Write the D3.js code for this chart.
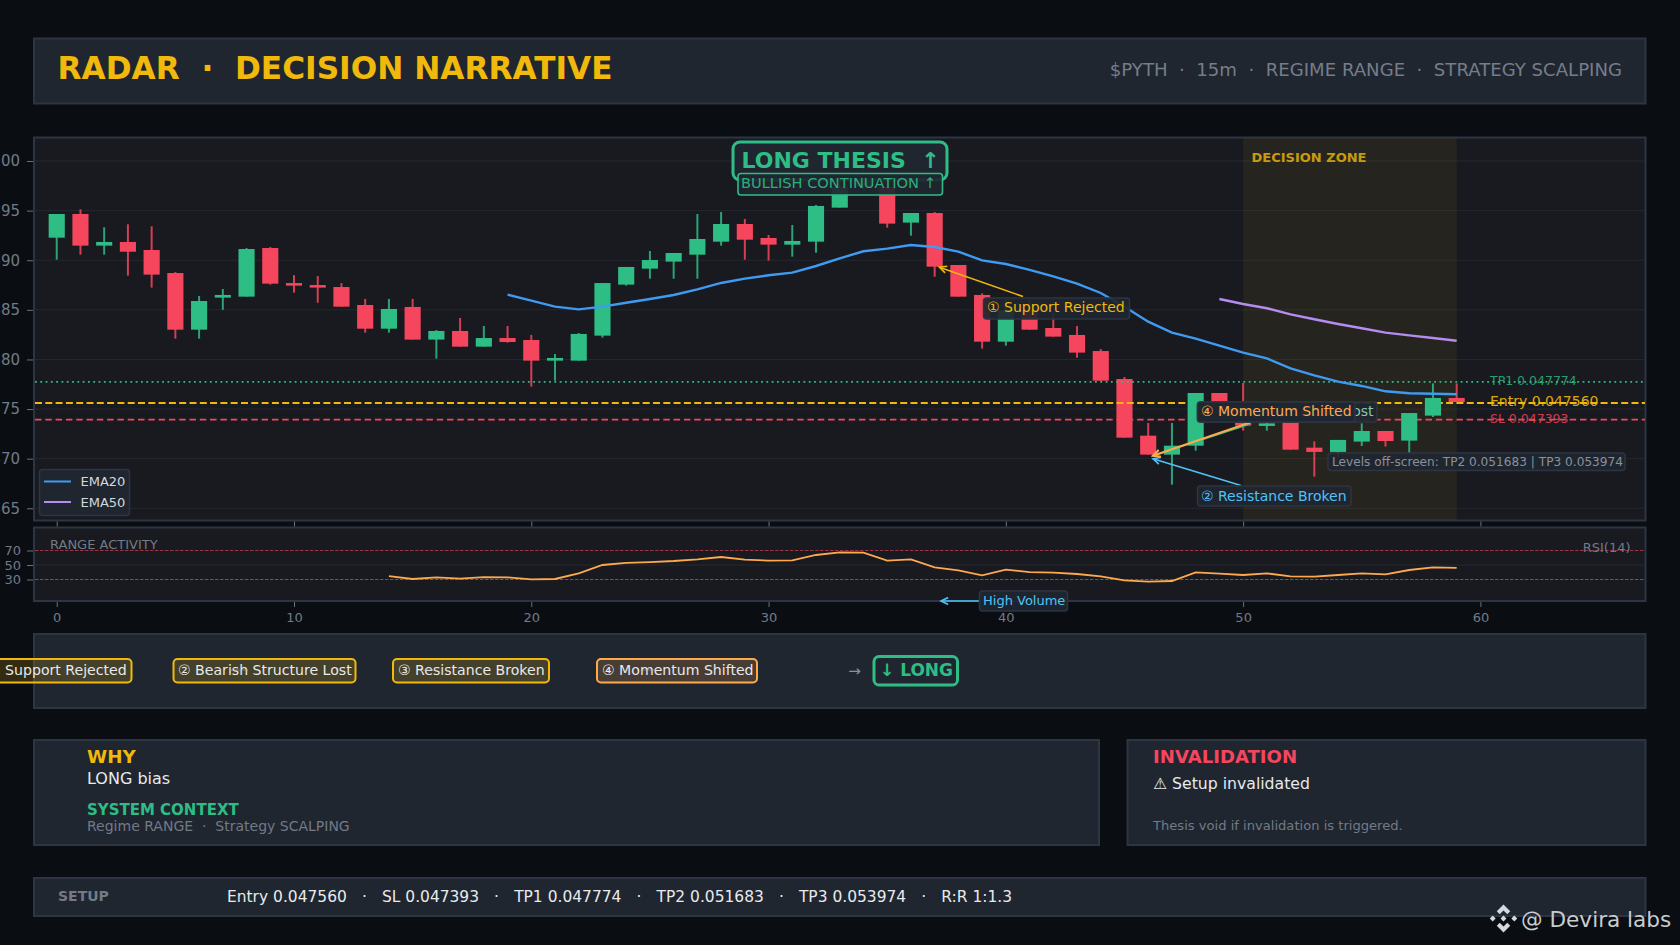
<!DOCTYPE html>
<html><head><meta charset="utf-8">
<script src="https://cdn.jsdelivr.net/npm/d3@7/dist/d3.min.js"></script>
<style>
html,body{margin:0;padding:0;background:#0a0e12;overflow:hidden}
svg{display:block}
text{font-family:"DejaVu Sans",sans-serif;white-space:pre}
</style></head><body><svg id="c" width="1680" height="945"></svg>
<script>
const candleOpen=[.049227,.049466,.049147,.049184,.049103,.048871,.048300,.048623,.048633,.049123,.048770,.048750,.048730,.048549,.048310,.048529,.048200,.048287,.048129,.048216,.048196,.047988,.047988,.048240,.048754,.048915,.048986,.049056,.049187,.049365,.049224,.049157,.049187,.049530,.049740,.049740,.049379,.049476,.048952,.048650,.048179,.048500,.048317,.048247,.048085,.047803,.047232,.047041,.047131,.047662,.047460,.047330,.047370,.047111,.047068,.047172,.047279,.047182,.047434,.047612];
const candleClose=[.049466,.049147,.049184,.049086,.048855,.048300,.048589,.048650,.049113,.048764,.048744,.048724,.048532,.048310,.048509,.048200,.048287,.048129,.048216,.048176,.047988,.048015,.048257,.048770,.048932,.049002,.049073,.049214,.049365,.049207,.049157,.049194,.049547,.049740,.049860,.049369,.049476,.048935,.048633,.048179,.048498,.048300,.048230,.048069,.047786,.047212,.047041,.047131,.047662,.047470,.047333,.047356,.047091,.047068,.047189,.047279,.047178,.047460,.047612,.047571];
const candleHigh=[.049466,.049513,.049332,.049362,.049342,.048881,.048640,.048710,.049123,.049133,.048850,.048840,.048770,.048610,.048610,.048610,.048297,.048418,.048337,.048337,.048247,.048055,.048267,.048770,.048932,.049093,.049073,.049466,.049486,.049416,.049254,.049355,.049557,.049810,.049930,.049740,.049476,.049486,.048952,.048666,.048600,.048600,.048465,.048337,.048105,.047823,.047360,.047360,.047662,.047662,.047763,.047400,.047370,.047175,.047189,.047356,.047279,.047460,.047759,.047759];
const candleLow=[.049006,.049056,.049056,.048844,.048724,.048210,.048210,.048500,.048633,.048754,.048673,.048572,.048532,.048270,.048270,.048200,.048008,.048129,.048129,.048169,.047726,.047786,.047988,.048220,.048744,.048814,.048814,.048814,.049147,.049006,.048996,.049036,.049076,.049530,.049700,.049328,.049248,.048834,.048633,.048109,.048139,.048300,.048230,.048018,.047786,.047212,.047041,.046738,.047081,.047400,.047283,.047283,.047091,.046819,.047014,.047128,.047122,.047054,.047420,.047571];
const ema20Start=19;
const ema20=[.048653,.048593,.048532,.048505,.048532,.048572,.048609,.048650,.048707,.048771,.048814,.048848,.048875,.048942,.049019,.049090,.049117,.049154,.049133,.049086,.048999,.048962,.048902,.048838,.048764,.048670,.048532,.048381,.048270,.048210,.048139,.048069,.048011,.047911,.047840,.047776,.047733,.047679,.047659,.047655,.047649];
const ema50Start=49;
const ema50=[.048609,.048559,.048516,.048455,.048405,.048357,.048314,.048270,.048243,.048216,.048189];
const rsiStart=14;
const rsi=[34.8,30.7,33.0,31.1,33.4,33.0,30.2,30.7,38.5,50,52.8,54.1,55.5,57.8,61.0,57.4,56.0,56.4,63.8,67.5,67,56,57.8,46.8,42.6,35.7,43.6,40.3,39.4,37.6,34.4,28.9,27.0,27.9,39.9,38.0,36.2,38.5,34.4,33.9,36.2,38.5,37.1,43.1,46.8,45.9];
const priceTicks=[.0500,.0495,.0490,.0485,.0480,.0475,.0470,.0465];
const rsiTicks=[70,50,30];
const xTicks=[0,10,20,30,40,50,60];
const entry=.047560, stopLoss=.047393, tp1=.047774;
const pipelineLabels=["① Support Rejected","② Bearish Structure Lost","③ Resistance Broken","④ Momentum Shifted"];
const legendLabels=["EMA20","EMA50"];
const setupLine="Entry 0.047560   ·   SL 0.047393   ·   TP1 0.047774   ·   TP2 0.051683   ·   TP3 0.053974   ·   R:R 1:1.3";

const C={bg:"#0a0e12",panel:"#1f2630",border:"#2d3442",plot:"#181a20",grid:"#25282f",grey:"#737a86",gold:"#f0b90b",green:"#2ebd85",red:"#f6465d",orange:"#ffa94d",blue:"#4fc3f7",ema20:"#3f9bf2",ema50:"#b48cf2",white:"#e8eaed"};
const svg=d3.select("#c");
const x=d3.scaleLinear().domain([-1,67]).range([33,1646.5]);
const y=d3.scaleLinear().domain([.0500,.0465]).range([161,508.3]);
const yR=d3.scaleLinear().domain([50,70]).range([565,550.5]);
function panel(a,b,c,d,fill){return svg.append("rect").attr("x",a+1).attr("y",b+1).attr("width",c-a-2).attr("height",d-b-2).attr("fill",fill||C.panel).attr("stroke",C.border).attr("stroke-width",2);}
function txt(g,a,b,s,o){o=o||{};return g.append("text").attr("x",a).attr("y",b).attr("dy",".36em").attr("text-anchor",o.anchor||"start").attr("font-size",o.size||14).attr("font-weight",o.bold?"bold":"normal").attr("fill",o.color||C.white).attr("opacity",o.op==null?1:o.op).text(s);}
svg.append("rect").attr("width",1680).attr("height",945).attr("fill",C.bg);
// header
panel(33,37.5,1646.5,104.5);
txt(svg,57.5,68,"RADAR  ·  DECISION NARRATIVE",{size:31.2,bold:true,color:C.gold});
txt(svg,1622,69.5,"$PYTH  ·  15m  ·  REGIME RANGE  ·  STRATEGY SCALPING",{size:18.1,anchor:"end",color:"#767d89"});
// main plot
panel(33,136.5,1646.5,521.5,C.plot);
const xAx=svg.append("g").attr("transform","translate(0,521.5)").call(d3.axisBottom(x).tickValues(xTicks).tickFormat("").tickSize(5));
const yAx=svg.append("g").attr("transform","translate(33,0)").call(d3.axisLeft(y).tickValues(priceTicks).tickFormat(d3.format(".4f")).tickSize(6).tickPadding(7));
[xAx,yAx].forEach(a=>{a.select(".domain").remove();a.selectAll("line").attr("stroke","#6b7280");a.selectAll("text").attr("fill",C.grey).attr("font-size",15);});
const plot=svg.append("g");
plot.selectAll(".gl").data(priceTicks).join("line").attr("x1",35).attr("x2",1645).attr("y1",d=>y(d)).attr("y2",d=>y(d)).attr("stroke",C.grid).attr("stroke-width",1);
plot.append("rect").attr("x",x(50)).attr("width",x(59)-x(50)).attr("y",138).attr("height",382).attr("fill",C.gold).attr("opacity",.065);
txt(plot,1251.5,157.5,"DECISION ZONE",{size:13,bold:true,color:C.gold,op:.8});
const idx=d3.range(candleOpen.length);
const hw=x(.34)-x(0);
function candles(ids){
  plot.selectAll(null).data(ids).join("line").attr("x1",i=>x(i)).attr("x2",i=>x(i)).attr("y1",i=>y(candleHigh[i])).attr("y2",i=>y(candleLow[i])).attr("stroke",i=>candleClose[i]>=candleOpen[i]?C.green:C.red).attr("stroke-width",2).attr("opacity",.85);
  plot.selectAll(null).data(ids).join("rect").attr("x",i=>x(i)-hw).attr("width",hw*2).attr("y",i=>y(Math.max(candleOpen[i],candleClose[i]))).attr("height",i=>Math.abs(y(candleOpen[i])-y(candleClose[i]))).attr("fill",i=>candleClose[i]>=candleOpen[i]?C.green:C.red);
}
candles(idx.filter(i=>candleClose[i]<candleOpen[i]));
txt(plot,1490,380.5,"TP1 0.047774",{size:12.5,color:C.green,op:.8});
txt(plot,1490,401,"Entry 0.047560",{size:14,color:C.gold,op:.9});
txt(plot,1490,418,"SL 0.047393",{size:12.5,color:C.red,op:.8});
function level(v,col,w,dash){plot.append("line").attr("x1",35).attr("x2",1645).attr("y1",y(v)).attr("y2",y(v)).attr("stroke",col).attr("stroke-width",w).attr("stroke-dasharray",dash);}
level(tp1,C.green,1.8,"1.8 3.5");
level(entry,C.gold,2,"7 3.3");
level(stopLoss,C.red,1.8,"6.5 3.8");
candles(idx.filter(i=>candleClose[i]>=candleOpen[i]));
const ln=(start,sc)=>d3.line().x((d,i)=>x(start+i)).y(d=>sc(d));
plot.append("path").attr("d",ln(ema20Start,y)(ema20)).attr("fill","none").attr("stroke",C.ema20).attr("stroke-width",2.4);
plot.append("path").attr("d",ln(ema50Start,y)(ema50)).attr("fill","none").attr("stroke",C.ema50).attr("stroke-width",2.4);
// legend
svg.append("rect").attr("x",39.5).attr("y",469.5).attr("width",90).attr("height",46).attr("rx",3).attr("fill",C.panel).attr("stroke",C.border).attr("stroke-width",1.5);
[C.ema20,C.ema50].forEach((col,i)=>{const yy=481.5+i*20.5;svg.append("line").attr("x1",44).attr("x2",71).attr("y1",yy).attr("y2",yy).attr("stroke",col).attr("stroke-width",2);txt(svg,80.5,yy,legendLabels[i],{size:13,color:"#d5d8dc"});});
// thesis tags
function box(g,a,b,c,d,o){return g.append("rect").attr("x",a).attr("y",b).attr("width",c-a).attr("height",d-b).attr("rx",o.r==null?3:o.r).attr("fill",o.fill||"#1f2630").attr("fill-opacity",o.fo==null?.92:o.fo).attr("stroke",o.stroke||C.border).attr("stroke-width",o.w||1.5);}
box(svg,733,142,947,180,{r:7,stroke:C.green,w:3,fo:.96});
txt(svg,741.5,160,"LONG THESIS  ↑",{size:22,bold:true,color:C.green});
box(svg,738,173.5,942.5,195,{r:3,stroke:C.green,w:1.6,fo:.92});
txt(svg,741,183,"BULLISH CONTINUATION ↑",{size:14.6,color:C.green,op:.9});
// annotations
function arrow(g,x1,y1,x2,y2,col,w){
  g.append("line").attr("x1",x1).attr("y1",y1).attr("x2",x2).attr("y2",y2).attr("stroke",col).attr("stroke-width",w||1.6);
  const a=Math.atan2(y1-y2,x1-x2),L=8,s=.45;
  g.append("path").attr("d",d3.line()([[x2+L*Math.cos(a+s),y2+L*Math.sin(a+s)],[x2,y2],[x2+L*Math.cos(a-s),y2+L*Math.sin(a-s)]])).attr("fill","none").attr("stroke",col).attr("stroke-width",w||1.6);
}
const ann=svg.append("g");
arrow(ann,1023,296.5,x(37.2),y(.04893),C.gold,1.6);
arrow(ann,1241,485.5,x(46.2),y(.04700),C.blue,1.6);
arrow(ann,1250,424,x(46.2),y(.04703),C.green,1.6);
arrow(ann,1250,422.5,x(46.2),y(.04703),C.orange,2);
box(ann,983.5,298,1129.5,319,{});
txt(ann,987,307,pipelineLabels[0],{size:14,color:C.gold});
box(ann,1197.5,486,1351,506,{});
txt(ann,1201,495.5,"② Resistance Broken",{size:14,color:C.blue});
box(ann,1197.5,402,1377,422,{});
txt(ann,1201,411,"③ Bearish Structure Lost",{size:14,color:"#86c9aa"});
box(ann,1197.5,402,1355,422,{fo:.96});
txt(ann,1201,411,"④ Momentum Shifted",{size:14,color:C.orange});
box(ann,1328,453,1625,470.5,{});
txt(ann,1332,461.5,"Levels off-screen: TP2 0.051683 | TP3 0.053974",{size:12.15,color:"#8b919c"});
// rsi panel
panel(33,526.5,1646.5,602,C.plot);
const xAx2=svg.append("g").attr("transform","translate(0,602)").call(d3.axisBottom(x).tickValues(xTicks).tickSize(5).tickPadding(6));
const yAx2=svg.append("g").attr("transform","translate(33,0)").call(d3.axisLeft(yR).tickValues(rsiTicks).tickSize(6).tickPadding(6));
[xAx2,yAx2].forEach(a=>{a.select(".domain").remove();a.selectAll("line").attr("stroke","#6b7280");a.selectAll("text").attr("fill",C.grey).attr("font-size",13);});
svg.append("line").attr("x1",35).attr("x2",1645).attr("y1",yR(50)).attr("y2",yR(50)).attr("stroke",C.grid);
svg.append("line").attr("x1",35).attr("x2",1645).attr("y1",yR(70)).attr("y2",yR(70)).attr("stroke",C.red).attr("stroke-width",1).attr("stroke-dasharray","3.5 1.5").attr("opacity",.6);
svg.append("line").attr("x1",35).attr("x2",1645).attr("y1",yR(30)).attr("y2",yR(30)).attr("stroke",C.green).attr("stroke-width",1).attr("stroke-dasharray","3.5 1.5").attr("opacity",.6);
txt(svg,50,544,"RANGE ACTIVITY",{size:13,color:C.grey});
txt(svg,1630.5,547.5,"RSI(14)",{size:13,anchor:"end",color:C.grey});
svg.append("path").attr("d",ln(rsiStart,yR)(rsi)).attr("fill","none").attr("stroke",C.orange).attr("stroke-width",1.8);
arrow(svg,979,601,941,601,C.blue,1.6);
box(svg,979.5,591,1067.5,611,{});
txt(svg,983,600.5,"High Volume",{size:13,color:C.blue});
// pipeline
panel(33,633,1646.5,709);
const pipe=[[-40,131.5,C.gold,"#f0b90b",-12],[173.5,355.5,C.gold,"#f0b90b",178],[393,549,C.gold,"#f0b90b",398],[597,757,C.orange,"#ffa94d",602]];
pipe.forEach((p,i)=>{
  box(svg,p[0],659,p[1],682.5,{r:4,fill:p[3],fo:.18,stroke:p[2],w:2});
  txt(svg,p[4],670,pipelineLabels[i],{size:14.1,color:C.white});
});
[[230,248],[423,434],[643,656]].forEach(s=>svg.append("line").attr("x1",s[0]).attr("x2",s[1]).attr("y1",670).attr("y2",670).attr("stroke","#aab0b8").attr("stroke-width",1).attr("opacity",.55));
txt(svg,854.5,670.5,"→",{size:15,anchor:"middle",color:"#8b919c"});
box(svg,874,656.5,957.5,685,{r:5,fill:C.panel,fo:1,stroke:C.green,w:3});
txt(svg,880,669.5,"↓ LONG",{size:17,bold:true,color:C.green});
// why
panel(33,739,1100,846);
txt(svg,87,756,"WHY",{size:18.3,bold:true,color:C.gold});
txt(svg,87,778,"LONG bias",{size:16,color:C.white});
txt(svg,87,810,"SYSTEM CONTEXT",{size:15,bold:true,color:C.green});
txt(svg,87,826,"Regime RANGE  ·  Strategy SCALPING",{size:14,color:C.grey});
panel(1126.5,739,1646.5,846);
txt(svg,1153,756,"INVALIDATION",{size:18.1,bold:true,color:C.red});
txt(svg,1153,783,"⚠ Setup invalidated",{size:15.7,color:C.white});
txt(svg,1153,825.5,"Thesis void if invalidation is triggered.",{size:13.1,color:C.grey});
// setup
panel(33,877,1646.5,917);
txt(svg,58,896,"SETUP",{size:14,bold:true,color:C.grey});
txt(svg,227,896,setupLine,{size:15.45,color:C.white}).attr("word-spacing",.13);
// watermark
const wm=svg.append("g").attr("transform","translate(1503.5,918.5) scale(14)").attr("fill","#d6d8db");
const poly=p=>wm.append("polygon").attr("points",p.map(q=>q.join(",")).join(" "));
const chevron=[[0,-1],[.48,-.52],[.27,-.31],[0,-.58],[-.27,-.31],[-.48,-.52]];
poly(chevron);poly(chevron.map(q=>[q[0],-q[1]]));
[[0,0],[-.77,0],[.77,0]].forEach(c=>poly([[c[0],c[1]-.21],[c[0]+.21,c[1]],[c[0],c[1]+.21],[c[0]-.21,c[1]]]));
txt(svg,1521,919,"@ Devira labs",{size:21.6,color:"#c8ccd0"});
</script></body></html>
